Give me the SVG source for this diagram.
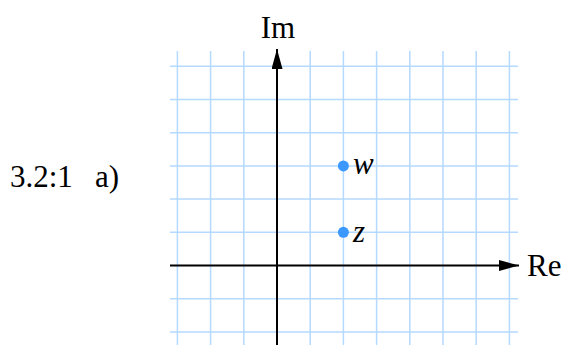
<svg xmlns="http://www.w3.org/2000/svg" width="566" height="345" viewBox="0 0 566 345">
<defs>
<style>
.grid line{stroke:#b5d9ff;stroke-width:1.5}
.axis{stroke:#000;stroke-width:2;fill:none}
.lbl{font-family:"Liberation Serif","DejaVu Serif",serif;font-size:31px;fill:#000}
.var{font-family:"Liberation Serif","DejaVu Serif",serif;font-style:italic;font-size:31px;fill:#000}
.pt{fill:#3a98ff}
</style>
<marker id="arr" viewBox="0 0 20 11" refX="20" refY="5.5" markerWidth="20" markerHeight="11" markerUnits="userSpaceOnUse" orient="auto">
<path d="M0,0 L20,5.5 L0,11 Z" fill="#000"/>
</marker>
</defs>
<rect width="566" height="345" fill="#fff"/>
<g id="grid" class="grid">
<line x1="177.4" y1="51" x2="177.4" y2="345"/>
<line x1="210.6" y1="51" x2="210.6" y2="345"/>
<line x1="243.8" y1="51" x2="243.8" y2="345"/>
<line x1="310.2" y1="51" x2="310.2" y2="345"/>
<line x1="343.4" y1="51" x2="343.4" y2="345"/>
<line x1="376.6" y1="51" x2="376.6" y2="345"/>
<line x1="409.8" y1="51" x2="409.8" y2="345"/>
<line x1="443" y1="51" x2="443" y2="345"/>
<line x1="476.2" y1="51" x2="476.2" y2="345"/>
<line x1="509.4" y1="51" x2="509.4" y2="345"/>
<line x1="170" y1="66.3" x2="518" y2="66.3"/>
<line x1="170" y1="99.5" x2="518" y2="99.5"/>
<line x1="170" y1="132.7" x2="518" y2="132.7"/>
<line x1="170" y1="165.9" x2="518" y2="165.9"/>
<line x1="170" y1="199.1" x2="518" y2="199.1"/>
<line x1="170" y1="232.3" x2="518" y2="232.3"/>
<line x1="170" y1="298.7" x2="518" y2="298.7"/>
<line x1="170" y1="331.9" x2="518" y2="331.9"/>
</g>
<g id="connectors">
<line id="re-axis" class="axis" x1="170" y1="265.5" x2="519" y2="265.5" marker-end="url(#arr)"/>
<line id="im-axis" class="axis" x1="277" y1="345" x2="277" y2="49" marker-end="url(#arr)"/>
</g>
<g id="label-im"><text class="lbl" x="278" y="38" text-anchor="middle">Im</text></g>
<g id="label-re"><text class="lbl" x="527" y="276">Re</text></g>
<g id="caption"><text class="lbl" x="10" y="187">3.2:1</text><text class="lbl" x="95" y="187">a)</text></g>
<g id="point-w"><circle class="pt" cx="343.4" cy="165.9" r="5.5"/><text class="var" x="353" y="174">w</text></g>
<g id="point-z"><circle class="pt" cx="343.4" cy="232.3" r="5.5"/><text class="var" x="353" y="242">z</text></g>
</svg>
